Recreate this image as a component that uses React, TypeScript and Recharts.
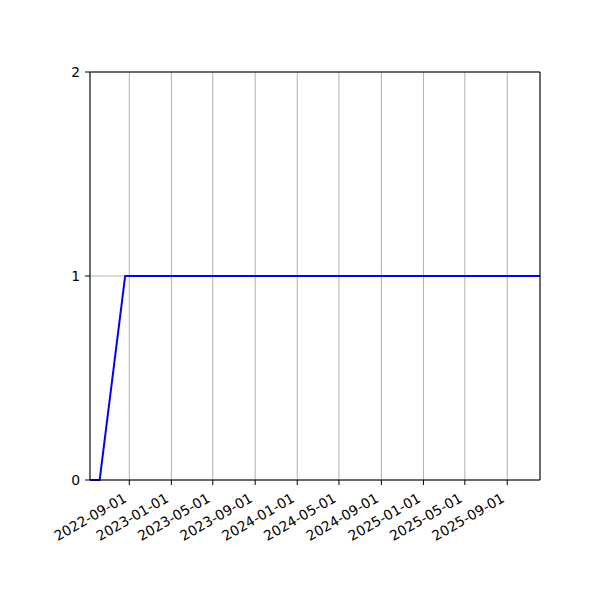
import { CartesianGrid, Line, LineChart, ReferenceLine, XAxis, YAxis } from 'recharts';

const dates = ['2022-05-10', '2022-06-07', '2022-08-20', '2025-12-05'];
const values = [0, 0, 1, 1];
const xTickDates = [
  '2022-09-01',
  '2023-01-01',
  '2023-05-01',
  '2023-09-01',
  '2024-01-01',
  '2024-05-01',
  '2024-09-01',
  '2025-01-01',
  '2025-05-01',
  '2025-09-01',
];
const yTicks = [0, 1, 2];

const toTs = (d: string) => Date.parse(d + 'T00:00:00Z');
const data = dates.map((d, i) => ({ t: toTs(d), v: values[i] }));
const xStart = toTs(dates[0]);
const xEnd = toTs(dates[dates.length - 1]);

const FONT = 'DejaVu Sans';

function formatDate(ts: number): string {
  return new Date(ts).toISOString().slice(0, 10);
}

function DateTick(props: any) {
  const { x, y, payload } = props;
  const ax = x - 1.7;
  const ay = y + 14;
  return (
    <text
      x={ax}
      y={ay}
      textAnchor="end"
      fontFamily={FONT}
      fontSize={13.9}
      fill="#000"
      transform={`rotate(-30, ${ax}, ${ay})`}
    >
      {formatDate(payload.value)}
    </text>
  );
}

export default function App() {
  return (
    <div style={{ position: 'absolute', left: 0, top: 0, background: '#fff' }}>
      <LineChart
        width={600}
        height={600}
        data={data}
        margin={{ top: 72, right: 60, left: 50, bottom: 60 }}
      >
        <CartesianGrid stroke="#b0b0b0" strokeWidth={1} />
        <XAxis
          dataKey="t"
          type="number"
          scale="time"
          domain={[xStart, xEnd]}
          ticks={xTickDates.map(toTs)}
          height={60}
          tickSize={5}
          tickMargin={2}
          axisLine={{ stroke: '#000' }}
          tickLine={{ stroke: '#000' }}
          tick={<DateTick />}
          interval={0}
        />
        <YAxis
          type="number"
          domain={[0, 2]}
          ticks={yTicks}
          width={40}
          tickSize={5}
          tickMargin={5}
          axisLine={{ stroke: '#000' }}
          tickLine={{ stroke: '#000' }}
          tick={{ fill: '#000', fontSize: 13.9, fontFamily: FONT }}
        />
        <ReferenceLine y={2} stroke="#000" />
        <ReferenceLine x={xEnd} stroke="#000" />
        <Line
          type="linear"
          dataKey="v"
          stroke="#0000ff"
          strokeWidth={2}
          dot={false}
          isAnimationActive={false}
        />
      </LineChart>
    </div>
  );
}
